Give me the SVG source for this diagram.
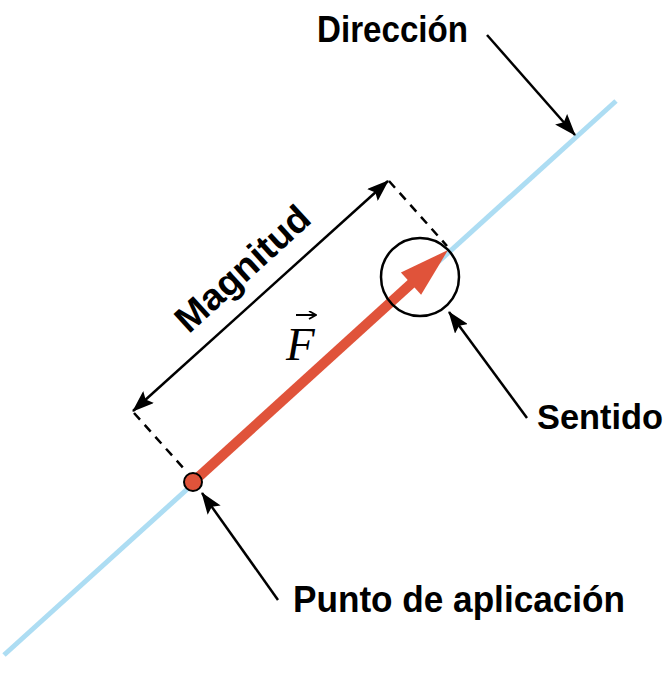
<svg xmlns="http://www.w3.org/2000/svg" width="672" height="674" viewBox="0 0 672 674">
<defs>
<style>
.lbl{font-family:"Liberation Sans",Arial,sans-serif;font-weight:bold;font-size:37px;fill:#000}
.conn{stroke:#000;stroke-width:2.5;fill:none}
.dash{stroke:#000;stroke-width:2.5;fill:none;stroke-dasharray:9 7}
</style>
<marker id="ah" markerUnits="userSpaceOnUse" markerWidth="22" markerHeight="16" viewBox="0 0 22 16" refX="21" refY="8" orient="auto-start-reverse">
<path d="M0,0 L22,8 L0,16 L4,8 z" fill="#000"/>
</marker>
<marker id="ahs" markerUnits="userSpaceOnUse" markerWidth="9" markerHeight="9" viewBox="0 0 9 9" refX="8" refY="4.5" orient="auto">
<path d="M1,0.5 L8,4.5 L1,8.5" fill="none" stroke="#000" stroke-width="1.8"/>
</marker>
</defs>
<rect width="672" height="674" fill="#fff"/>
<g id="direction-line">
<line x1="4" y1="655" x2="616" y2="101" stroke="#ADDDF3" stroke-width="5"/>
</g>
<g id="force-vector">
<line x1="193" y1="482" x2="413" y2="282" stroke="#E0533A" stroke-width="10"/>
<polygon points="448,250 421.1,294.8 400.9,272.6" fill="#E0533A"/>
</g>
<g id="sense-circle">
<circle cx="420" cy="277" r="39" fill="none" stroke="#000" stroke-width="2.5"/>
</g>
<g id="application-point">
<circle cx="193" cy="482" r="9" fill="#E0533A" stroke="#000" stroke-width="2"/>
</g>
<g id="connectors">
<line class="dash" x1="134" y1="413" x2="186" y2="471"/>
<line class="dash" x1="389" y1="181" x2="447" y2="246"/>
<line class="conn" x1="133" y1="411" x2="388" y2="181" marker-start="url(#ah)" marker-end="url(#ah)"/>
<line class="conn" x1="487" y1="35" x2="575" y2="135" marker-end="url(#ah)"/>
<line class="conn" x1="527" y1="418" x2="449" y2="312" marker-end="url(#ah)"/>
<line class="conn" x1="278" y1="600" x2="202" y2="493" marker-end="url(#ah)"/>
</g>
<g id="label-direccion">
<text class="lbl" x="317" y="42" textLength="151" lengthAdjust="spacingAndGlyphs">Dirección</text>
</g>
<g id="label-magnitud">
<text class="lbl" x="0" y="0" text-anchor="middle" textLength="168" lengthAdjust="spacingAndGlyphs" transform="translate(251,278) rotate(-42.2)">Magnitud</text>
</g>
<g id="label-F">
<text x="286" y="360" font-family="'Liberation Serif','Times New Roman',serif" font-style="italic" font-size="47" fill="#000">F</text>
<line x1="296" y1="315" x2="316" y2="315" stroke="#000" stroke-width="2" marker-end="url(#ahs)"/>
</g>
<g id="label-sentido">
<text class="lbl" x="537" y="429" font-size="35" style="font-size:35px" textLength="126" lengthAdjust="spacingAndGlyphs">Sentido</text>
</g>
<g id="label-punto">
<text class="lbl" x="293" y="612" textLength="332" lengthAdjust="spacingAndGlyphs">Punto de aplicación</text>
</g>
</svg>
